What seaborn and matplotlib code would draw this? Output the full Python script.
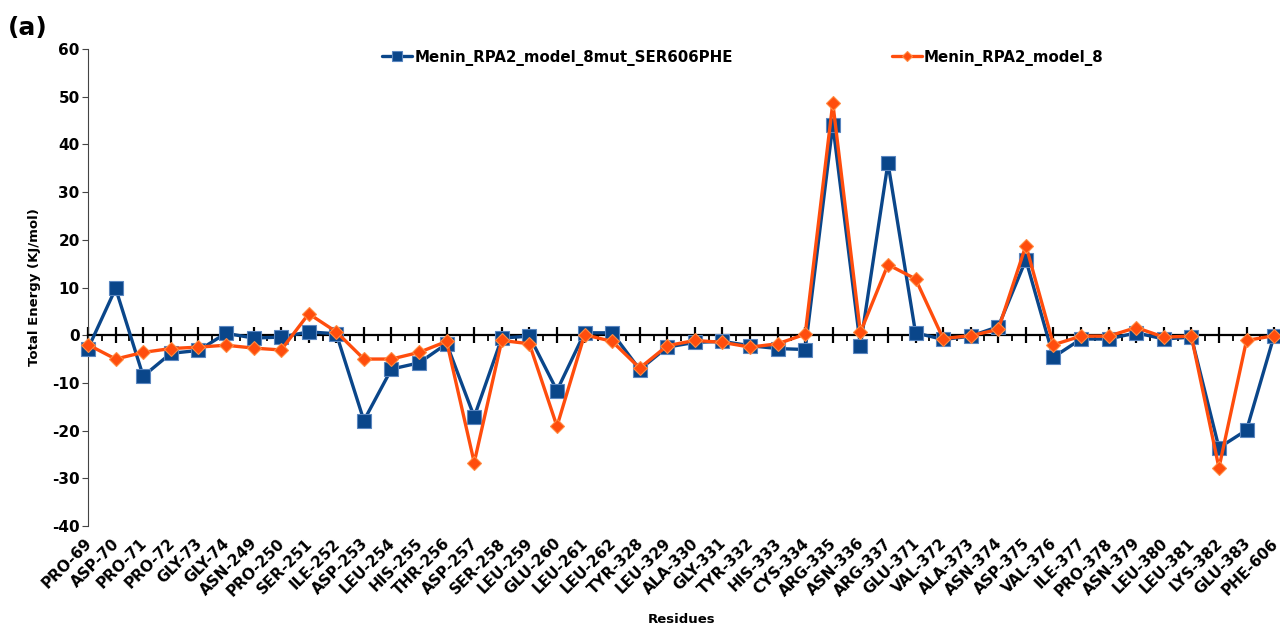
import numpy as np
import pandas as pd
import matplotlib
matplotlib.use("Agg")
import matplotlib.pyplot as plt
import matplotlib.transforms as mtransforms
import seaborn as sns
from matplotlib.ticker import MultipleLocator

residues = [
    "PRO-69", "ASP-70", "PRO-71", "PRO-72", "GLY-73", "GLY-74", "ASN-249",
    "PRO-250", "SER-251", "ILE-252", "ASP-253", "LEU-254", "HIS-255",
    "THR-256", "ASP-257", "SER-258", "LEU-259", "GLU-260", "LEU-261",
    "LEU-262", "TYR-328", "LEU-329", "ALA-330", "GLY-331", "TYR-332",
    "HIS-333", "CYS-334", "ARG-335", "ASN-336", "ARG-337", "GLU-371",
    "VAL-372", "ALA-373", "ASN-374", "ASP-375", "VAL-376", "ILE-377",
    "PRO-378", "ASN-379", "LEU-380", "LEU-381", "LYS-382", "GLU-383",
    "PHE-606",
]

mutant = [
    -2.8, 9.8, -8.6, -3.8, -3.2, 0.4, -0.6, -0.4, 0.7, 0.3, -17.9, -7.1,
    -5.8, -1.8, -17.1, -0.6, -0.2, -11.6, 0.5, 0.5, -7.2, -2.5, -1.5, -1.3,
    -2.2, -2.8, -3.0, 44.1, -2.2, 36.1, 0.5, -0.9, -0.2, 1.8, 15.8, -4.6,
    -0.8, -0.8, 0.5, -0.8, -0.4, -23.6, -19.9, -0.1,
]

wild = [
    -2.0, -5.0, -3.6, -2.8, -2.5, -2.1, -2.7, -3.1, 4.5, 0.7, -5.0, -5.0,
    -3.6, -1.3, -26.7, -1.1, -1.8, -19.1, 0.1, -1.3, -6.9, -2.2, -1.1, -1.5,
    -2.5, -1.8, 0.2, 48.7, 0.6, 14.8, 11.8, -0.7, -0.1, 1.2, 18.8, -2.0,
    -0.2, -0.2, 1.6, -0.4, -0.2, -27.8, -1.1, -0.1,
]

series_names = ["Menin_RPA2_model_8mut_SER606PHE", "Menin_RPA2_model_8"]
blue = "#0a468a"
orange = "#ff4d0d"

pos = np.arange(len(residues))
df = pd.DataFrame({"pos": pos, "mut": mutant, "wt": wild})

sns.set_theme(style="white")
plt.rcParams["font.family"] = ["DejaVu Sans"]
plt.rcParams["font.weight"] = "bold"
plt.rcParams["text.color"] = "black"
plt.rcParams["axes.labelcolor"] = "black"
plt.rcParams["xtick.color"] = "black"
plt.rcParams["ytick.color"] = "black"
plt.rcParams["axes.unicode_minus"] = False

fig = plt.figure(figsize=(12.8, 6.25), dpi=100)
ax = fig.add_axes([0.0688, 0.1584, 0.9266, 0.7632])

sns.lineplot(data=df, x="pos", y="mut", ax=ax, color=blue, linewidth=2.4,
             marker="s", markersize=10, markeredgecolor="#5a86c0",
             markeredgewidth=0.8, label=series_names[0], clip_on=False,
             zorder=3)
sns.lineplot(data=df, x="pos", y="wt", ax=ax, color=orange, linewidth=2.4,
             marker="D", markersize=7.5, markeredgecolor="#ff8a40",
             markeredgewidth=0.8, label=series_names[1], clip_on=False,
             zorder=4)

ax.set_xlim(0, len(residues) - 1)
ax.set_ylim(-40, 60)
ax.yaxis.set_major_locator(MultipleLocator(10))

# x axis drawn along the zero line
for side in ["top", "right"]:
    ax.spines[side].set_visible(False)
ax.spines["bottom"].set_position(("data", 0))
ax.spines["bottom"].set_color("black")
ax.spines["bottom"].set_linewidth(1.6)
ax.spines["left"].set_color("#444444")
ax.spines["left"].set_linewidth(0.8)
ax.set_xticks(pos)
ax.xaxis.set_minor_locator(MultipleLocator(0.5))
ax.tick_params(axis="x", which="major", direction="inout", length=11,
               width=1.6, color="black", labelbottom=False, bottom=True)
ax.tick_params(axis="x", which="minor", direction="out", length=4,
               width=1.3, color="black", bottom=True)
ax.tick_params(axis="y", which="major", direction="out", length=4,
               width=0.8, color="#444444", left=True, labelsize=11,
               pad=2)
for lbl in ax.get_yticklabels():
    lbl.set_fontweight("bold")

# residue names along the bottom of the plot
sec = ax.secondary_xaxis(0)
sec.set_xticks(pos, labels=residues)
sec.spines["bottom"].set_visible(False)
sec.tick_params(length=0, pad=7)
shift = mtransforms.ScaledTranslation(-4 / 100, 0, fig.dpi_scale_trans)
for lbl in sec.get_xticklabels():
    lbl.set_rotation(45)
    lbl.set_ha("right")
    lbl.set_rotation_mode("anchor")
    lbl.set_fontsize(11)
    lbl.set_fontweight("bold")
    lbl.set_transform(lbl.get_transform() + shift)
sec.set_xlabel("Residues", fontsize=9.5, fontweight="bold", labelpad=10)

ax.set_xlabel("")
ax.set_ylabel("Total Energy (KJ/mol)", fontsize=9.5, fontweight="bold",
              labelpad=8)

leg = ax.legend(loc="upper center", bbox_to_anchor=(0.552, 1.027), ncol=2,
                frameon=False, columnspacing=10.6, handlelength=2.0,
                handletextpad=0.15, markerscale=0.7,
                prop={"weight": "bold", "size": 10.8})

fig.text(0.006, 0.975, "(a)", fontsize=18, fontweight="bold", va="top",
         ha="left")

fig.savefig("out.png", dpi=100, facecolor="white")
